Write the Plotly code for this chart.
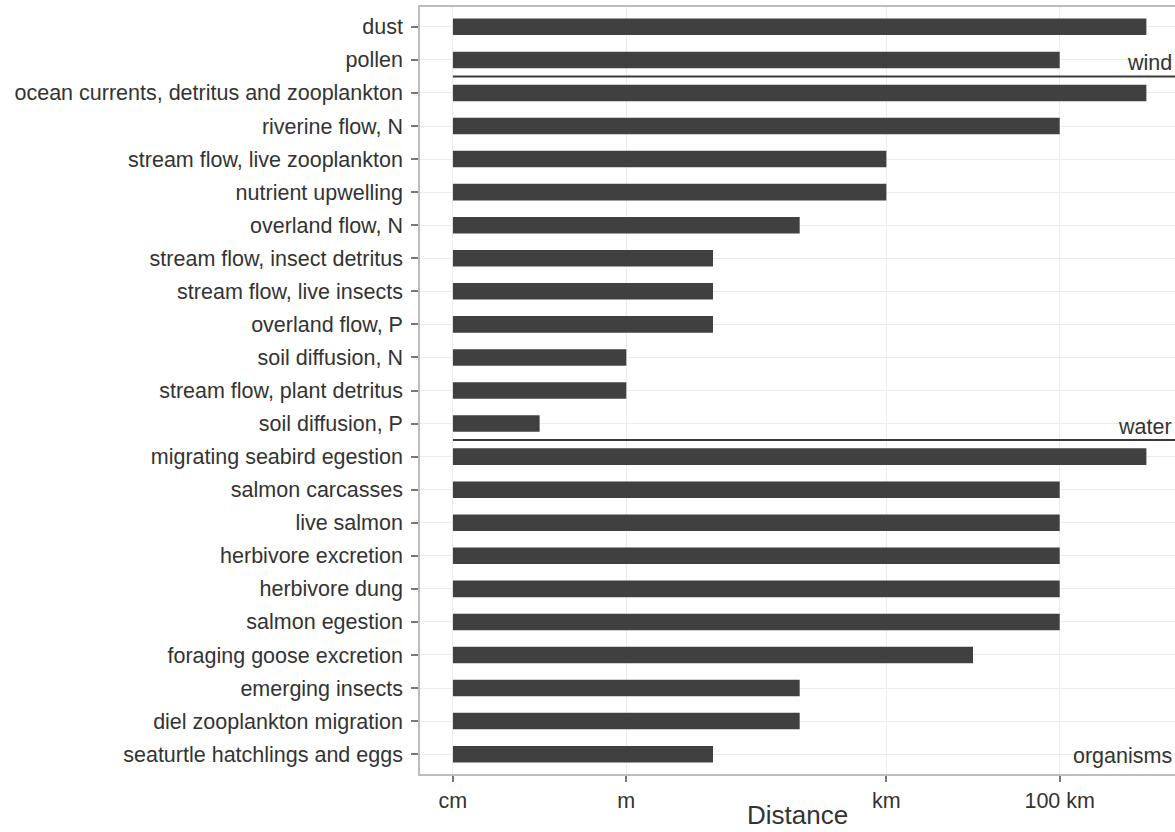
import numpy as np
import plotly.graph_objects as go

# ---- data ----
categories = [
    "dust", "pollen",
    "ocean currents, detritus and zooplankton", "riverine flow, N",
    "stream flow, live zooplankton", "nutrient upwelling", "overland flow, N",
    "stream flow, insect detritus", "stream flow, live insects", "overland flow, P",
    "soil diffusion, N", "stream flow, plant detritus", "soil diffusion, P",
    "migrating seabird egestion", "salmon carcasses", "live salmon",
    "herbivore excretion", "herbivore dung", "salmon egestion",
    "foraging goose excretion", "emerging insects", "diel zooplankton migration",
    "seaturtle hatchlings and eggs",
]
# distance in metres
distance_m = [
    1e6, 1e5,
    1e6, 1e5, 1e3, 1e3, 1e2, 1e1, 1e1, 1e1, 1e0, 1e0, 1e-1,
    1e6, 1e5, 1e5, 1e5, 1e5, 1e5, 1e4, 1e2, 1e2, 1e1,
]
base_m = 0.01  # bars start at 1 cm

tick_m = [0.01, 1, 1000, 100000]
tick_labels = ["cm", "m", "km", "100 km"]
x_title = "Distance"

# group separators (after category index) and labels
group_labels = ["wind", "water", "organisms"]
group_after_idx = [1, 12, 22]

# ---- figure ----
log_d = np.log10(distance_m)
log_base = np.log10(base_m)
x_range = [log_base - 0.38, log_base + 8.33]

fig = go.Figure()
fig.add_trace(go.Bar(
    y=categories,
    x=log_d - log_base,
    base=[log_base] * len(categories),
    orientation="h",
    width=0.5,
    marker=dict(color="#404040", line=dict(width=0)),
    hoverinfo="skip",
))

shapes = []
annotations = []
for lab, idx in zip(group_labels, group_after_idx):
    if idx < len(categories) - 1:
        yy = idx + 0.5
        shapes.append(dict(type="line", xref="x", yref="y",
                           x0=log_base, x1=x_range[1], y0=yy, y1=yy,
                           line=dict(color="#3a3a3a", width=2)))
        annotations.append(dict(text=lab, xref="paper", yref="y", x=1, y=yy,
                                xanchor="right", yanchor="bottom", showarrow=False,
                                xshift=-1, yshift=-1,
                                font=dict(size=21.5, color="#333333")))
    else:
        annotations.append(dict(text=lab, xref="paper", yref="y", x=1, y=idx,
                                xanchor="right", yanchor="middle", showarrow=False,
                                xshift=-1, yshift=-2,
                                font=dict(size=21.5, color="#333333")))

# x-axis title
annotations.append(dict(text=x_title, xref="paper", yref="paper", x=0.5, y=0,
                        xanchor="center", yanchor="middle", yshift=-41,
                        showarrow=False, borderpad=0,
                        font=dict(size=26, color="#333333")))

fig.update_layout(
    width=1175, height=832,
    margin=dict(l=420, r=0, t=7, b=58),
    paper_bgcolor="white", plot_bgcolor="white",
    font=dict(family="Liberation Sans, Arial, sans-serif", size=21.5, color="#333333"),
    showlegend=False,
    shapes=shapes,
    annotations=annotations,
    xaxis=dict(
        range=x_range,
        automargin=False,
        tickmode="array",
        tickvals=list(np.log10(tick_m)),
        ticktext=tick_labels,
        ticks="outside", ticklen=6, tickwidth=1.5, tickcolor="#777777",
        ticklabelstandoff=0,
        showgrid=True, gridcolor="#ECECEC", gridwidth=1,
        zeroline=False,
        showline=True, linecolor="#BDBDBD", linewidth=1.5, mirror=True,
        tickfont=dict(size=21.5, color="#333333"),
    ),
    yaxis=dict(
        type="category",
        automargin=False,
        categoryorder="array", categoryarray=categories,
        range=[len(categories) - 0.4, -0.6],
        ticks="outside", ticklen=7, tickwidth=1.5, tickcolor="#777777",
        ticklabelstandoff=4,
        showgrid=True, gridcolor="#ECECEC", gridwidth=1,
        zeroline=False,
        showline=True, linecolor="#BDBDBD", linewidth=1.5, mirror=True,
        tickfont=dict(size=21.5, color="#333333"),
    ),
    bargap=0.5,
)

fig.write_html(
    "out.html",
    config={"displayModeBar": False},
    post_script="document.body.style.margin='0';document.body.style.overflow='hidden';",
)
